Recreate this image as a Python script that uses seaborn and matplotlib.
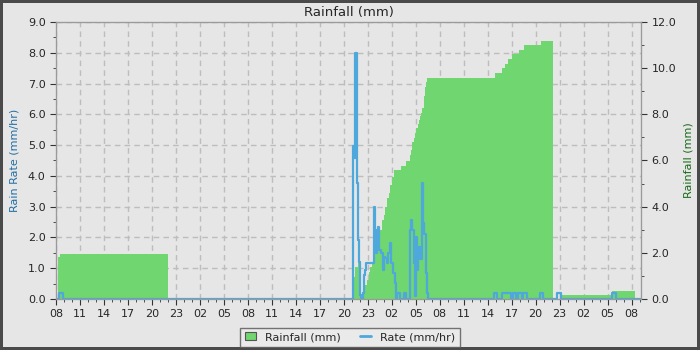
import matplotlib
matplotlib.use("Agg")
import matplotlib.pyplot as plt
from matplotlib.patches import Rectangle
from matplotlib.lines import Line2D
from matplotlib.ticker import MultipleLocator, FormatStrFormatter
import seaborn as sns
import pandas as pd

# ---- data (hours since 08:00 of day 1) ----
rain_hours = [0.0, 0.2, 0.5, 14.0, 37.14, 37.39, 37.79, 38.01,
              38.29, 38.49, 38.70, 38.91, 39.11, 39.33, 39.54, 39.74, 39.95,
              40.16, 40.36, 40.57, 40.79, 40.99, 41.20, 41.41, 41.61, 41.82,
              42.04, 42.23, 43.20, 43.82, 44.32, 44.44, 44.57, 44.73, 44.86,
              45.07, 45.23, 45.41, 45.57, 45.69, 45.82, 45.98, 46.10, 46.23,
              46.40, 54.93, 55.84, 56.18, 56.59, 57.09, 57.93, 58.55, 60.67,
              62.13, 63.17, 69.60, 72.41]
rain_mm = [0.0, 1.8, 1.95, 0.0, 0.97, 1.4, 2.56, 0.0,
           0.25, 0.39, 0.61, 0.82, 1.18, 1.40, 1.62, 1.91, 2.12,
           2.41, 2.70, 2.99, 3.42, 3.64, 4.00, 4.36, 4.61, 4.94,
           5.30, 5.59, 5.76, 5.98, 6.24, 6.46, 6.82, 6.96, 7.21,
           7.40, 7.58, 7.76, 7.93, 8.07, 8.26, 8.80, 9.20, 9.40,
           9.58, 9.81, 10.02, 10.18, 10.38, 10.62, 10.79, 11.0, 11.18,
           0.0, 0.17, 0.35, 0.0]

rate_hours = [0.0, 0.34, 0.91, 37.12, 37.29, 37.45, 37.67, 37.79, 37.92, 38.04,
              38.20, 38.36, 38.49, 38.61, 38.74, 39.79, 39.86, 40.04, 40.16,
              40.29, 40.45, 40.70, 40.86, 40.99, 41.20, 41.41, 41.57, 41.79,
              41.95, 42.20, 42.36, 42.48, 42.61, 43.07, 43.57, 43.73, 44.28,
              44.44, 44.57, 44.78, 44.91, 45.07, 45.19, 45.32, 45.53, 45.73,
              45.94, 46.07, 46.23, 46.40, 46.57, 47.03,
              54.81, 55.18, 55.77, 56.89, 57.14, 57.52, 57.80, 58.26, 58.46,
              58.89, 60.55, 60.96, 62.71, 63.13, 69.58, 70.0, 73.2]
rate_mmhr = [0.0, 0.19, 0.0, 4.97, 4.57, 7.98, 3.76, 1.92, 1.21, 0.13,
             0.0, 0.19, 0.78, 0.94, 1.18, 3.0, 2.24, 1.5, 1.92,
             2.35, 1.59, 1.5, 0.94, 1.37, 1.32, 1.16, 1.48, 1.81,
             1.16, 0.83, 0.51, 0.0, 0.19, 0.0, 0.19, 0.0, 2.24,
             2.56, 2.24, 1.16, 0.1, 2.02, 0.94, 1.70, 1.30, 3.76,
             2.46, 2.10, 0.83, 0.19, 0.0, 0.0,
             0.19, 0.0, 0.19, 0.0, 0.19, 0.0, 0.19, 0.0, 0.19,
             0.0, 0.19, 0.0, 0.19, 0.0, 0.19, 0.0, 0.0]

tick_hours = list(range(0, 73, 3))
tick_labels = ['08', '11', '14', '17', '20', '23', '02', '05',
               '08', '11', '14', '17', '20', '23', '02', '05',
               '08', '11', '14', '17', '20', '23', '02', '05', '08']

rain_df = pd.DataFrame({"hour": rain_hours, "rain": rain_mm})
rate_df = pd.DataFrame({"hour": rate_hours, "rate": rate_mmhr})

BG = "#e6e6e6"
GREEN = "#70d670"
BLUE = "#4ea8dc"

sns.set_style("ticks", {"axes.facecolor": BG, "figure.facecolor": BG,
                        "axes.edgecolor": "#9a9a9a"})
plt.rcParams['font.family'] = ['DejaVu Sans']

fig = plt.figure(figsize=(7, 3.5), dpi=100)
fig.patch.set_facecolor(BG)
fig.patch.set_edgecolor("#4a4a4a")
fig.patch.set_linewidth(3)

ax = fig.add_axes([0.08, 0.146, 0.836, 0.791])
ax2 = ax.twinx()   # rainfall (right)
ax3 = ax.twinx()   # rate line on top

# grid on base axis
ax.set_xlim(0, 73.2)
ax.set_ylim(0, 9)
ax.xaxis.set_minor_locator(MultipleLocator(1))
ax.set_xticks(tick_hours)
ax.set_xticklabels(tick_labels)
ax.yaxis.set_major_locator(MultipleLocator(1))
ax.yaxis.set_minor_locator(MultipleLocator(0.5))
ax.yaxis.set_major_formatter(FormatStrFormatter('%.1f'))
ax.grid(True, which='major', color='#bdbdbd', linestyle=(0, (4, 3)), linewidth=1)
ax.tick_params(axis='both', which='major', labelsize=8, length=4, color='#333')
ax.tick_params(axis='both', which='minor', length=2, color='#333')
ax.set_ylabel("Rain Rate (mm/hr)", color="#1f6fa6", fontsize=8, labelpad=6)
ax.set_xlabel("")

# rainfall fill
ax2.fill_between(rain_df["hour"], 0, rain_df["rain"], step='post',
                 color=GREEN, linewidth=0)
ax2.set_ylim(0, 12)
ax2.yaxis.set_major_locator(MultipleLocator(2))
ax2.yaxis.set_minor_locator(MultipleLocator(1))
ax2.yaxis.set_major_formatter(FormatStrFormatter('%.1f'))
ax2.tick_params(axis='y', which='major', labelsize=8, length=4, color='#333')
ax2.tick_params(axis='y', which='minor', length=2, color='#333')
ax2.set_ylabel("Rainfall (mm)", color="#1a6b1a", fontsize=8, labelpad=5)

# rate line
sns.lineplot(data=rate_df, x="hour", y="rate", ax=ax3, color=BLUE,
             linewidth=1.6, drawstyle='steps-post', estimator=None, legend=False)
ax3.set_ylim(0, 9)
ax3.set_xlim(0, 73.2)
ax3.set_yticks([])
ax3.set_ylabel("")
ax3.set_xlabel("")
for a in (ax2, ax3):
    a.patch.set_visible(False)

for a in (ax, ax2, ax3):
    for s in a.spines.values():
        s.set_color("#9a9a9a")

ax.set_title("Rainfall (mm)", fontsize=9.5, pad=4)

handles = [Rectangle((0, 0), 1, 1, facecolor=GREEN, edgecolor="#555555", linewidth=0.8),
           Line2D([0], [0], color=BLUE, linewidth=2)]
leg = fig.legend(handles, ["Rainfall (mm)", "Rate (mm/hr)"], loc='center',
                 bbox_to_anchor=(0.5, 0.037), ncol=2, fontsize=8, frameon=True,
                 fancybox=False, handlelength=1.0, handleheight=0.8,
                 columnspacing=1.8, borderpad=0.4)
leg.get_frame().set_edgecolor("#555555")
leg.get_frame().set_facecolor("#ececec")
leg.get_frame().set_linewidth(1)

fig.savefig("out.png", dpi=100, facecolor=fig.get_facecolor(),
            edgecolor=fig.get_edgecolor())
